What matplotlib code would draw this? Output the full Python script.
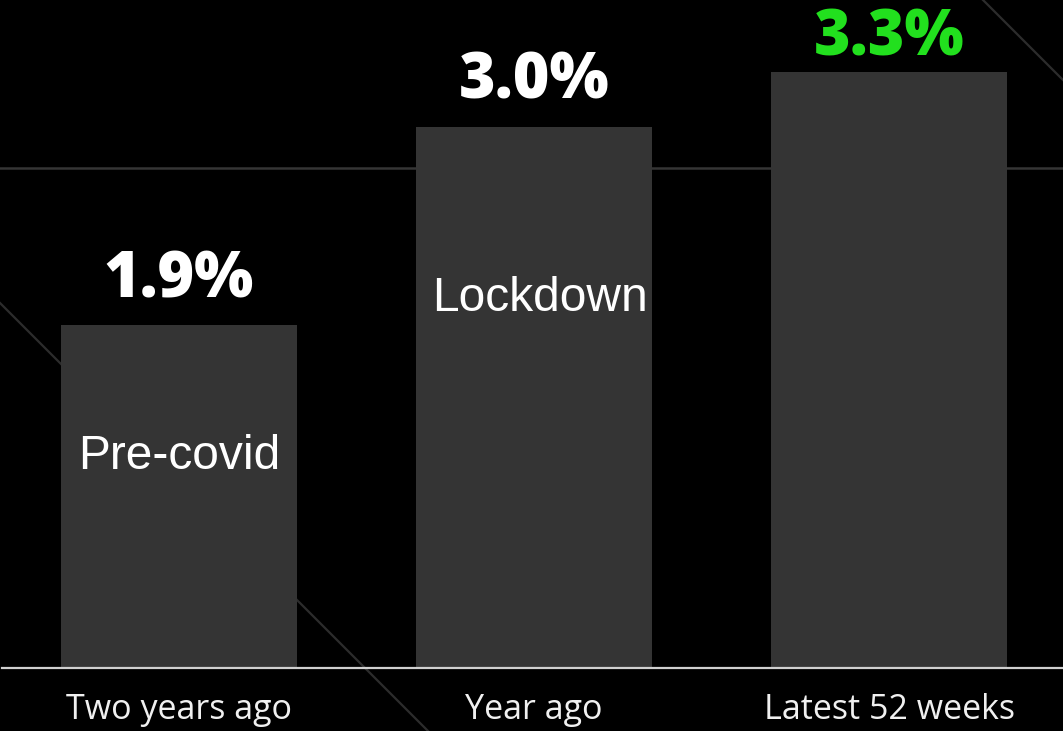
import matplotlib
matplotlib.use("Agg")
import matplotlib.pyplot as plt
from matplotlib.lines import Line2D

categories = ["Two years ago", "Year ago", "Latest 52 weeks"]
values = [1.9, 3.0, 3.3]
value_labels = ["1.9%", "3.0%", "3.3%"]
value_colors = ["#ffffff", "#ffffff", "#22e01e"]
inner_labels = ["Pre-covid", "Lockdown", ""]
inner_y = [1.10, 1.98, 0]

W, H = 1063, 731
fig = plt.figure(figsize=(W / 100, H / 100), dpi=100, facecolor="black")

# decorative background lines (pixel coords, y from top)
def bgline(x0, y0, x1, y1, color="#2c2c2c", lw=1.6):
    fig.add_artist(Line2D([x0 / W, x1 / W], [1 - y0 / H, 1 - y1 / H],
                          transform=fig.transFigure, color=color, lw=lw, zorder=-1))

bgline(0, 303, 428, 731)
bgline(983, 0, 1063, 80)
bgline(0, 168, 1063, 168, color="#353535", lw=1.8)

ax = fig.add_axes([2 / W, 63 / H, 1061 / W, 668 / H])
ax.set_facecolor("none")
x = list(range(len(categories)))
bars = ax.bar(x, values, width=0.665, color="#343434", zorder=2)
ax.set_xlim(-0.4986, 2.490)
ax.set_ylim(0, 3.701)

for s in ["top", "right", "left"]:
    ax.spines[s].set_visible(False)
ax.spines["bottom"].set_color("#d0d0d0")
ax.spines["bottom"].set_linewidth(1.6)
ax.set_yticks([])
ax.set_xticks(x)
ax.set_xticklabels(categories, fontfamily="Open Sans", fontsize=24.5, color="#f0f0f0")
ax.tick_params(axis="x", length=0, pad=18)

offsets = [20, 20, 12]
for xi, v, lab, col, off in zip(x, values, value_labels, value_colors, offsets):
    ax.annotate(lab, (xi, v), xytext=(0, off), textcoords="offset points",
                ha="center", va="baseline", fontsize=45, fontweight=800,
                fontfamily="Open Sans", color=col)

inner_dx = [0, 4.5, 0]
for xi, lab, yy, dx in zip(x, inner_labels, inner_y, inner_dx):
    if lab:
        ax.annotate(lab, (xi, yy), xytext=(dx, 0), textcoords="offset points",
                    ha="center", va="baseline", fontsize=34.5,
                    fontfamily="Liberation Sans", color="white", zorder=3)

fig.savefig("out.png", dpi=100, facecolor="black")
